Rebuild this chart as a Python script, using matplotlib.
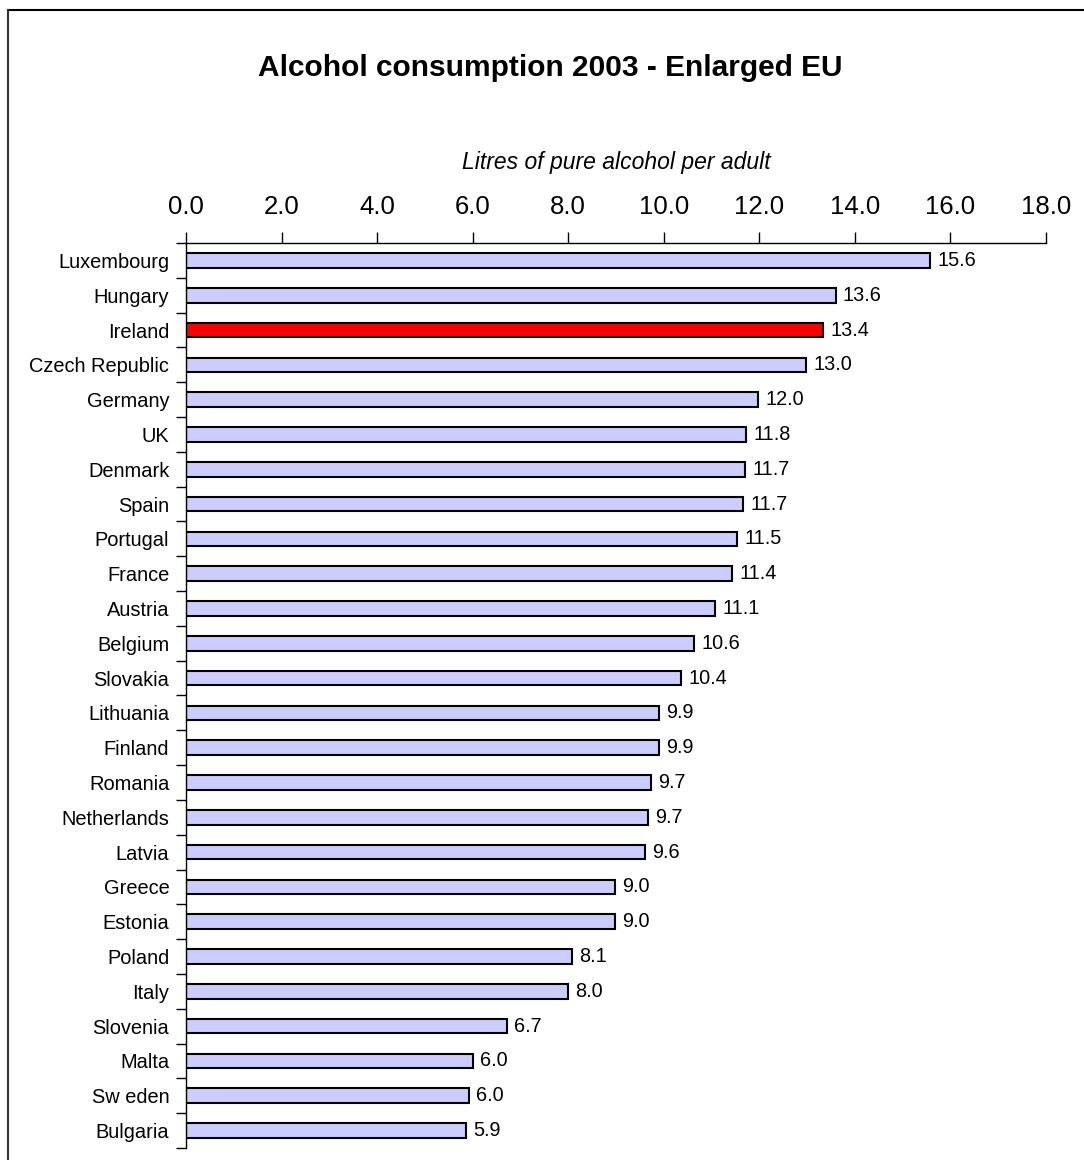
import matplotlib
matplotlib.use("Agg")
import matplotlib.pyplot as plt
from matplotlib.lines import Line2D
from matplotlib.ticker import MultipleLocator, FixedLocator

plt.rcParams['font.family'] = ['Liberation Sans', 'DejaVu Sans']

# data (top to bottom)
countries = ['Luxembourg', 'Hungary', 'Ireland', 'Czech Republic', 'Germany', 'UK',
             'Denmark', 'Spain', 'Portugal', 'France', 'Austria', 'Belgium',
             'Slovakia', 'Lithuania', 'Finland', 'Romania', 'Netherlands', 'Latvia',
             'Greece', 'Estonia', 'Poland', 'Italy', 'Slovenia', 'Malta',
             'Sw eden', 'Bulgaria']
values = [15.57, 13.6, 13.33, 12.98, 11.97, 11.72,
          11.70, 11.66, 11.53, 11.43, 11.07, 10.63,
          10.36, 9.9, 9.9, 9.73, 9.67, 9.6,
          8.98, 8.98, 8.08, 8.0, 6.72, 6.0,
          5.92, 5.86]
labels = ['15.6', '13.6', '13.4', '13.0', '12.0', '11.8',
          '11.7', '11.7', '11.5', '11.4', '11.1', '10.6',
          '10.4', '9.9', '9.9', '9.7', '9.7', '9.6',
          '9.0', '9.0', '8.1', '8.0', '6.7', '6.0',
          '6.0', '5.9']
highlight = 'Ireland'

W, H = 1084, 1160
fig = plt.figure(figsize=(W / 100, H / 100), dpi=100)
ax = fig.add_axes([186 / W, 1 - 1148 / H, 860 / W, (1148 - 243) / H])

n = len(countries)
ypos = list(range(n))
colors = ['#ff0000' if c == highlight else '#ccccff' for c in countries]
ax.barh(ypos, values, height=0.42, color=colors, edgecolor='black', linewidth=1.5)

for y, v, lab in zip(ypos, values, labels):
    ax.text(v + 0.15, y, lab, va='center', ha='left', fontsize=14.3)

ax.set_ylim(n - 0.5, -0.5)
ax.set_xlim(0, 18)
ax.set_yticks(ypos)
ax.set_yticklabels(countries, fontsize=14.4)
ax.yaxis.set_minor_locator(FixedLocator([i - 0.5 for i in range(n + 1)]))
ax.tick_params(axis='y', which='major', length=0, pad=12)
ax.tick_params(axis='y', which='minor', length=7, width=1)

ax.xaxis.tick_top()
ax.xaxis.set_major_locator(MultipleLocator(2))
ax.xaxis.set_major_formatter(matplotlib.ticker.FormatStrFormatter('%.1f'))
ax.tick_params(axis='x', length=8, width=1, labelsize=18.5, pad=9)
ax.xaxis.set_label_position('top')
ax.set_xlabel('Litres of pure alcohol per adult', fontsize=16.5, style='italic', labelpad=19)

for s in ['right', 'bottom']:
    ax.spines[s].set_visible(False)
ax.spines['top'].set_linewidth(1)
ax.spines['left'].set_linewidth(1)

fig.text(550 / W, 1 - 68 / H, 'Alcohol consumption 2003 - Enlarged EU',
         ha='center', va='center', fontsize=21.5, fontweight='bold')

# chart border
fig.add_artist(Line2D([7.5 / W, 1], [1 - 9.5 / H, 1 - 9.5 / H], color='black', lw=1.5,
                      transform=fig.transFigure))
fig.add_artist(Line2D([7.5 / W, 7.5 / W], [0, 1 - 9.5 / H], color='#333333', lw=1.5,
                      transform=fig.transFigure))

fig.savefig('out.png', dpi=100)
